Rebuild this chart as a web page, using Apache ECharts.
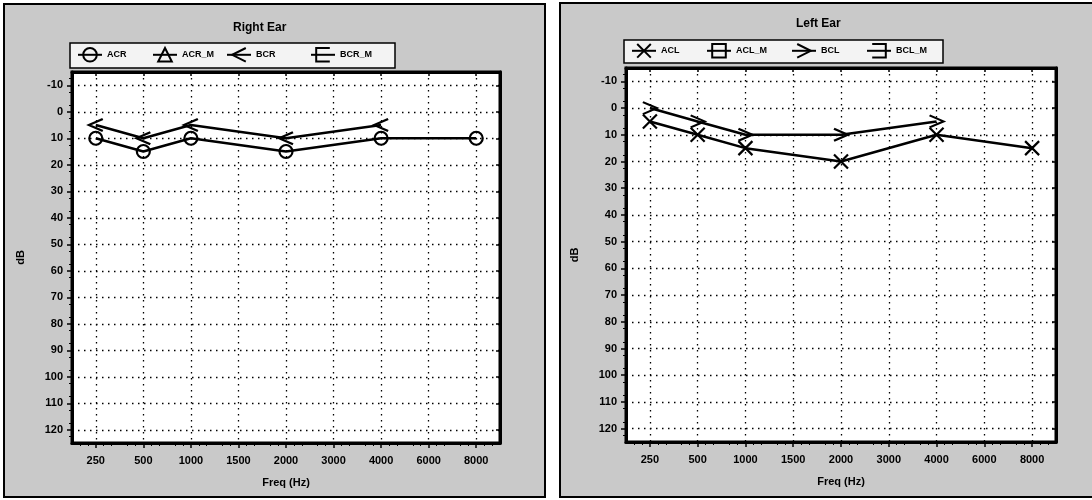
<!DOCTYPE html>
<html>
<head>
<meta charset="utf-8">
<script src="https://cdn.jsdelivr.net/npm/echarts@6/dist/echarts.min.js"></script>
<style>
html,body{margin:0;padding:0;background:#fff;}
#c{width:1092px;height:500px;}
</style>
</head>
<body>
<div id="c"></div>
<script>
// ---- data ----
var freqLabels = ['250', '500', '1000', '1500', '2000', '3000', '4000', '6000', '8000'];
var dbTicks = [-10, 0, 10, 20, 30, 40, 50, 60, 70, 80, 90, 100, 110, 120];
// Right ear (null = not measured)
var ACR = [10, 15, 10, null, 15, null, 10, null, 10];
var BCR = [5, 10, 5, null, 10, null, 5, null, null];
// Left ear
var ACL = [5, 10, 15, null, 20, null, 10, null, 15];
var BCL = [0, 5, 10, null, 10, null, 5, null, null];
var rightNames = ['ACR', 'ACR_M', 'BCR', 'BCR_M'];
var leftNames = ['ACL', 'ACL_M', 'BCL', 'BCL_M'];

var idx = freqLabels.map(function (f, i) { return i; });
function pts(arr) {
  var out = [];
  arr.forEach(function (v, i) { if (v !== null) out.push([i, v]); });
  return out;
}

var FONT = 'Liberation Sans, Arial, sans-serif';
var BLACK = '#000';

function symStyle() {
  return { color: 'rgba(255,255,255,0)', borderColor: BLACK, borderWidth: 2.2 };
}
function mkSeries(name, data, symbol, size, gi) {
  return {
    type: 'line', name: name, data: data,
    xAxisIndex: gi * 2, yAxisIndex: gi * 2,
    symbol: symbol, symbolSize: size, showAllSymbol: true,
    lineStyle: { color: BLACK, width: 2.5 },
    itemStyle: symStyle(),
    emphasis: { disabled: true },
    animation: false
  };
}

var SYM = {
  circle: 'circle',
  tri: 'triangle',
  lt: 'path://M10,0 L0,5 L10,10',
  lbr: 'path://M10,0 L0,0 L0,10 L10,10',
  x: 'path://M0,0 L10,10 M10,0 L0,10',
  rect: 'rect',
  gt: 'path://M0,0 L10,5 L0,10',
  rbr: 'path://M0,0 L10,0 L10,10 L0,10'
};

var grids = [
  { left: 72, right: 592, top: 72, bottom: 57 },
  { left: 626, right: 36, top: 68, bottom: 58 }
];

var xAxes = [], yAxes = [];
grids.forEach(function (g, gi) {
  xAxes.push({
    type: 'value', gridIndex: gi, position: 'bottom',
    min: -0.5, max: 8.5, interval: 0.5,
    name: 'Freq (Hz)', nameLocation: 'middle', nameGap: 34,
    nameTextStyle: { fontFamily: FONT, fontWeight: 'bold', fontSize: 11, color: BLACK },
    axisLine: { show: true, onZero: false, lineStyle: { color: BLACK, width: 3 } },
    axisTick: { show: true, customValues: idx, length: 5, lineStyle: { color: BLACK, width: 1.5 } },
    minorTick: { show: true, splitNumber: 3, length: 3, lineStyle: { color: BLACK, width: 1 } },
    axisLabel: {
      customValues: idx, margin: 12,
      formatter: function (v) { return freqLabels[Math.round(v)]; },
      fontFamily: FONT, fontWeight: 'bold', fontSize: 11, color: BLACK
    },
    splitLine: { show: true, lineStyle: { color: BLACK, width: 1.3, type: [1.5, 4.5] } }
  });
  xAxes.push({
    type: 'value', gridIndex: gi, position: 'top',
    min: -0.5, max: 8.5, interval: 0.5,
    axisLine: { show: true, onZero: false, lineStyle: { color: BLACK, width: 3 } },
    axisTick: { show: true, inside: true, customValues: idx, length: 4, lineStyle: { color: BLACK, width: 1.5 } },
    minorTick: { show: false },
    axisLabel: { show: false },
    splitLine: { show: false }
  });
  yAxes.push({
    type: 'value', gridIndex: gi, position: 'left', inverse: true,
    min: -15, max: 125, interval: 5,
    name: 'dB', nameLocation: 'middle', nameGap: 46, nameRotate: 90,
    nameTextStyle: { fontFamily: FONT, fontWeight: 'bold', fontSize: 11, color: BLACK },
    axisLine: { show: true, onZero: false, lineStyle: { color: BLACK, width: 3 } },
    axisTick: { show: true, customValues: dbTicks, length: 5, lineStyle: { color: BLACK, width: 1.5 } },
    minorTick: { show: true, splitNumber: 2, length: 3, lineStyle: { color: BLACK, width: 1 } },
    axisLabel: {
      customValues: dbTicks, margin: 9,
      fontFamily: FONT, fontWeight: 'bold', fontSize: 11, color: BLACK
    },
    splitLine: { show: true, lineStyle: { color: BLACK, width: 1.3, type: [1.5, 4.5] } }
  });
  yAxes.push({
    type: 'value', gridIndex: gi, position: 'right', inverse: true,
    min: -15, max: 125, interval: 5,
    axisLine: { show: true, onZero: false, lineStyle: { color: BLACK, width: 3 } },
    axisTick: { show: true, inside: true, customValues: dbTicks, length: 4, lineStyle: { color: BLACK, width: 1.5 } },
    minorTick: { show: false },
    axisLabel: { show: false },
    splitLine: { show: false }
  });
});

var series = [
  mkSeries(rightNames[0], pts(ACR), SYM.circle, 13, 0),
  mkSeries(rightNames[1], [], SYM.tri, 12, 0),
  mkSeries(rightNames[2], pts(BCR), SYM.lt, [14, 12], 0),
  mkSeries(rightNames[3], [], SYM.lbr, [10, 12], 0),
  mkSeries(leftNames[0], pts(ACL), SYM.x, 14, 1),
  mkSeries(leftNames[1], [], SYM.rect, 11, 1),
  mkSeries(leftNames[2], pts(BCL), SYM.gt, [14, 12], 1),
  mkSeries(leftNames[3], [], SYM.rbr, [10, 12], 1)
];

// one legend component per entry so each can sit where the reference puts it
function mkLegendItem(name, left, top) {
  return {
    data: [name], left: left, top: top, padding: 0,
    itemWidth: 24, itemHeight: 17,
    textStyle: { fontFamily: FONT, fontWeight: 'bold', fontSize: 9, color: BLACK },
    selectedMode: false
  };
}
var rightLegendX = [77, 152, 226, 310];
var leftLegendX = [631, 706, 791, 866];
var legends = [];
rightNames.forEach(function (n, i) { legends.push(mkLegendItem(n, rightLegendX[i], 47)); });
leftNames.forEach(function (n, i) { legends.push(mkLegendItem(n, leftLegendX[i], 43)); });

var option = {
  backgroundColor: 'transparent',
  animation: false,
  graphic: [
    { type: 'rect', z: -10, silent: true, shape: { x: 4, y: 4, width: 541, height: 493 },
      style: { fill: '#c9c9c9', stroke: BLACK, lineWidth: 2 } },
    { type: 'rect', z: -10, silent: true, shape: { x: 560, y: 3, width: 545, height: 494 },
      style: { fill: '#c9c9c9', stroke: BLACK, lineWidth: 2 } },
    { type: 'rect', z: -5, silent: true, shape: { x: 70, y: 43, width: 325, height: 25 },
      style: { fill: '#f3f3f3', stroke: BLACK, lineWidth: 1.5 } },
    { type: 'rect', z: -5, silent: true, shape: { x: 624, y: 40, width: 319, height: 23 },
      style: { fill: '#f3f3f3', stroke: BLACK, lineWidth: 1.5 } }
  ],
  title: [
    { text: 'Right Ear', left: 233, top: 22, padding: 0,
      textStyle: { fontFamily: FONT, fontWeight: 'bold', fontSize: 12, color: BLACK } },
    { text: 'Left Ear', left: 796, top: 18, padding: 0,
      textStyle: { fontFamily: FONT, fontWeight: 'bold', fontSize: 12, color: BLACK } }
  ],
  legend: legends,
  grid: grids.map(function (g) {
    return Object.assign({ show: true, backgroundColor: '#fff', borderColor: BLACK, borderWidth: 3, containLabel: false }, g);
  }),
  xAxis: xAxes,
  yAxis: yAxes,
  series: series
};

var chart = echarts.init(document.getElementById('c'), null, { renderer: 'canvas' });
chart.setOption(option);
</script>
</body>
</html>
